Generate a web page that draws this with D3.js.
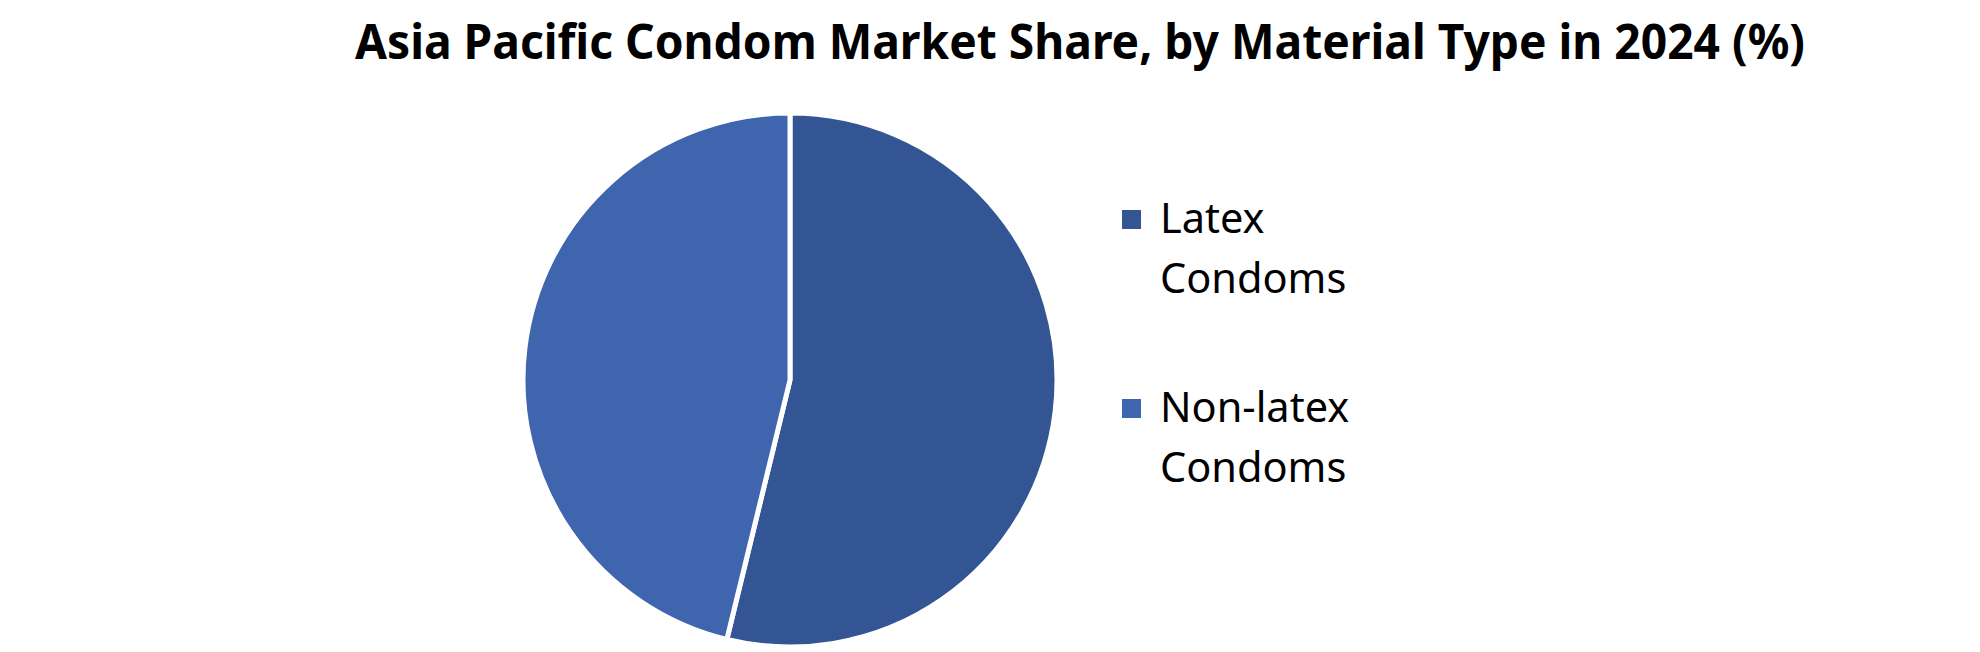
<!DOCTYPE html>
<html>
<head>
<meta charset="utf-8">
<script src="https://cdn.jsdelivr.net/npm/d3@7/dist/d3.min.js"></script>
<style>
  html, body { margin: 0; padding: 0; background: #ffffff; }
  svg { display: block; }
</style>
</head>
<body>
<svg id="chart" width="1980" height="652"></svg>
<script>
const titleText = "Asia Pacific Condom Market Share, by Material Type in 2024 (%)";
const categories = ["Latex Condoms", "Non-latex Condoms"];
const legendLines = [["Latex", "Condoms"], ["Non-latex", "Condoms"]];
const shares = [53.8, 46.2];
const colors = ["#335593", "#3e65ad"];

const svg = d3.select("#chart");

// Title
svg.append("text")
  .attr("x", 1080)
  .attr("y", 59)
  .attr("text-anchor", "middle")
  .attr("font-family", "'Noto Sans', 'Open Sans', sans-serif")
  .attr("font-weight", 700)
  .attr("font-size", 49)
  .attr("textLength", 1450)
  .attr("lengthAdjust", "spacingAndGlyphs")
  .attr("fill", "#000")
  .text(titleText);

// Pie
const cx = 790, cy = 380, r = 267;
const data = categories.map((c, i) => ({ name: c, value: shares[i] }));
const pie = d3.pie().value(d => d.value).sort(null);
const arc = d3.arc().innerRadius(0).outerRadius(r);
const color = d3.scaleOrdinal().domain(categories).range(colors);

const g = svg.append("g").attr("transform", `translate(${cx},${cy})`);
g.selectAll("path")
  .data(pie(data))
  .join("path")
  .attr("d", arc)
  .attr("fill", d => color(d.data.name))
  .attr("stroke", "#ffffff")
  .attr("stroke-width", 5)
  .attr("stroke-linejoin", "miter");

// Legend
const legendX = 1122, legendTop = [210, 399], lineGap = 60;
const lg = svg.append("g");
categories.forEach((c, i) => {
  const y0 = legendTop[i];
  lg.append("rect")
    .attr("x", legendX)
    .attr("y", y0)
    .attr("width", 19)
    .attr("height", 19)
    .attr("fill", color(c));
  const t = lg.append("text")
    .attr("font-family", "'Noto Sans', 'Open Sans', sans-serif")
    .attr("font-size", 41.5)
    .attr("fill", "#000");
  legendLines[i].forEach((ln, j) => {
    t.append("tspan")
      .attr("x", legendX + 38)
      .attr("y", y0 + 23 + j * lineGap)
      .text(ln);
  });
});
</script>
</body>
</html>
